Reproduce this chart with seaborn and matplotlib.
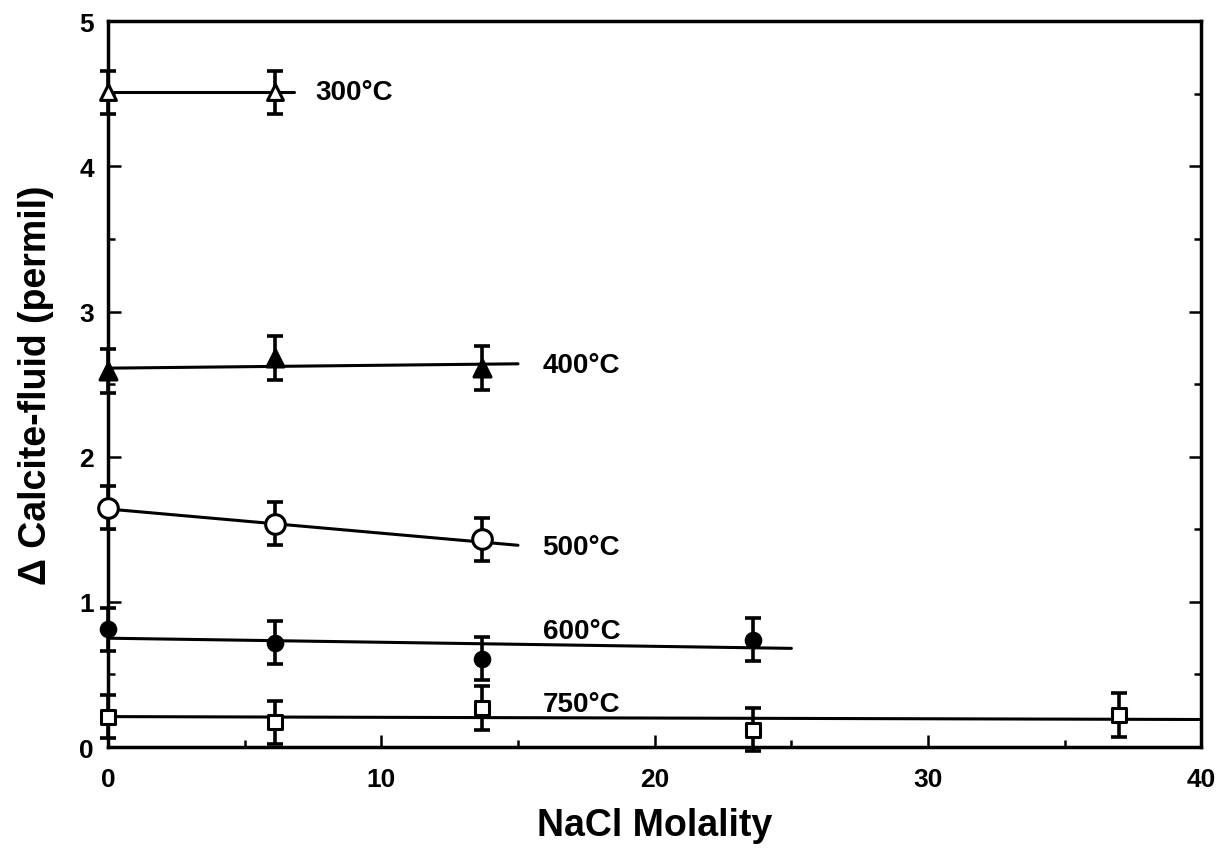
import numpy as np
import pandas as pd
import matplotlib
matplotlib.use("Agg")
from matplotlib import pyplot as plt
from matplotlib.ticker import MultipleLocator
import seaborn as sns

temps = ["300°C", "400°C", "500°C", "600°C", "750°C"]
x_300 = [0.0, 6.1]
y_300 = [4.51, 4.51]
x_400 = [0.0, 6.1, 13.7]
y_400 = [2.59, 2.68, 2.61]
x_500 = [0.0, 6.1, 13.7]
y_500 = [1.65, 1.54, 1.43]
x_600 = [0.0, 6.1, 13.7, 23.6]
y_600 = [0.81, 0.72, 0.61, 0.74]
x_750 = [0.0, 6.1, 13.7, 23.6, 37.0]
y_750 = [0.21, 0.17, 0.27, 0.12, 0.22]
err = 0.15

# fitted lines (start / end)
fit_x = {"300°C": [0.0, 6.8], "400°C": [0.0, 15.0], "500°C": [0.0, 15.0],
         "600°C": [0.0, 25.0], "750°C": [0.0, 40.0]}
fit_y = {"300°C": [4.51, 4.51], "400°C": [2.61, 2.64], "500°C": [1.64, 1.39],
         "600°C": [0.75, 0.68], "750°C": [0.21, 0.19]}

# label anchor positions
label_x = [7.6, 15.9, 15.9, 15.9, 15.9]
label_y = [4.51, 2.63, 1.38, 0.80, 0.30]

pts = pd.concat([
    pd.DataFrame({"x": xs, "y": ys, "T": t})
    for t, xs, ys in zip(temps, [x_300, x_400, x_500, x_600, x_750],
                         [y_300, y_400, y_500, y_600, y_750])
], ignore_index=True)
fits = pd.concat([
    pd.DataFrame({"x": fit_x[t], "y": fit_y[t], "T": t}) for t in temps
], ignore_index=True)

sns.set_theme(style="ticks")
plt.rcParams['font.family'] = ['Liberation Sans', 'DejaVu Sans']
plt.rcParams['font.weight'] = 'bold'
plt.rcParams['axes.labelweight'] = 'bold'
plt.rcParams['text.color'] = 'black'
plt.rcParams['axes.labelcolor'] = 'black'
plt.rcParams['xtick.color'] = 'black'
plt.rcParams['ytick.color'] = 'black'

fig = plt.figure(figsize=(12.26, 8.53), dpi=100)
ax = fig.add_axes([0.088, 0.123, 0.892, 0.851])

sns.lineplot(data=fits, x="x", y="y", units="T", estimator=None, color="black",
             lw=2.2, ax=ax, legend=False)

ax.errorbar(pts["x"], pts["y"], yerr=err, fmt="none", ecolor="black",
            elinewidth=2.6, capsize=6, capthick=2.6, clip_on=False, zorder=3)

styles = {"300°C": ("^", "white", 130), "400°C": ("^", "black", 150),
          "500°C": ("o", "white", 200), "600°C": ("o", "black", 110),
          "750°C": ("s", "white", 90)}
for t in temps:
    m, fc, s = styles[t]
    sub = pts[pts["T"] == t]
    sns.scatterplot(data=sub, x="x", y="y", marker=m, s=s, color=fc,
                    edgecolor="black", linewidth=2.2, ax=ax, zorder=4,
                    clip_on=False, legend=False)

for t, lx, ly in zip(temps, label_x, label_y):
    ax.text(lx, ly, t, fontsize=20, fontweight="bold", va="center", ha="left")

ax.set_xlim(0, 40)
ax.set_ylim(0, 5)
ax.xaxis.set_major_locator(MultipleLocator(10))
ax.xaxis.set_minor_locator(MultipleLocator(5))
ax.yaxis.set_major_locator(MultipleLocator(1))
ax.yaxis.set_minor_locator(MultipleLocator(0.5))
ax.tick_params(which="both", direction="in", top=False, right=True,
               width=1.8, labelsize=19)
ax.tick_params(axis="x", pad=14)
ax.tick_params(axis="y", pad=10)
ax.tick_params(which="major", length=9)
ax.tick_params(which="minor", length=5)
for lab in ax.get_xticklabels() + ax.get_yticklabels():
    lab.set_fontweight("bold")
for sp in ax.spines.values():
    sp.set_linewidth(2.5)
    sp.set_color("black")

ax.set_xlabel("NaCl Molality", fontsize=27, fontweight="bold", labelpad=12)
ax.set_ylabel("Δ Calcite-fluid (permil)", fontsize=27, fontweight="bold", labelpad=18)

fig.savefig("out.png", dpi=100)
